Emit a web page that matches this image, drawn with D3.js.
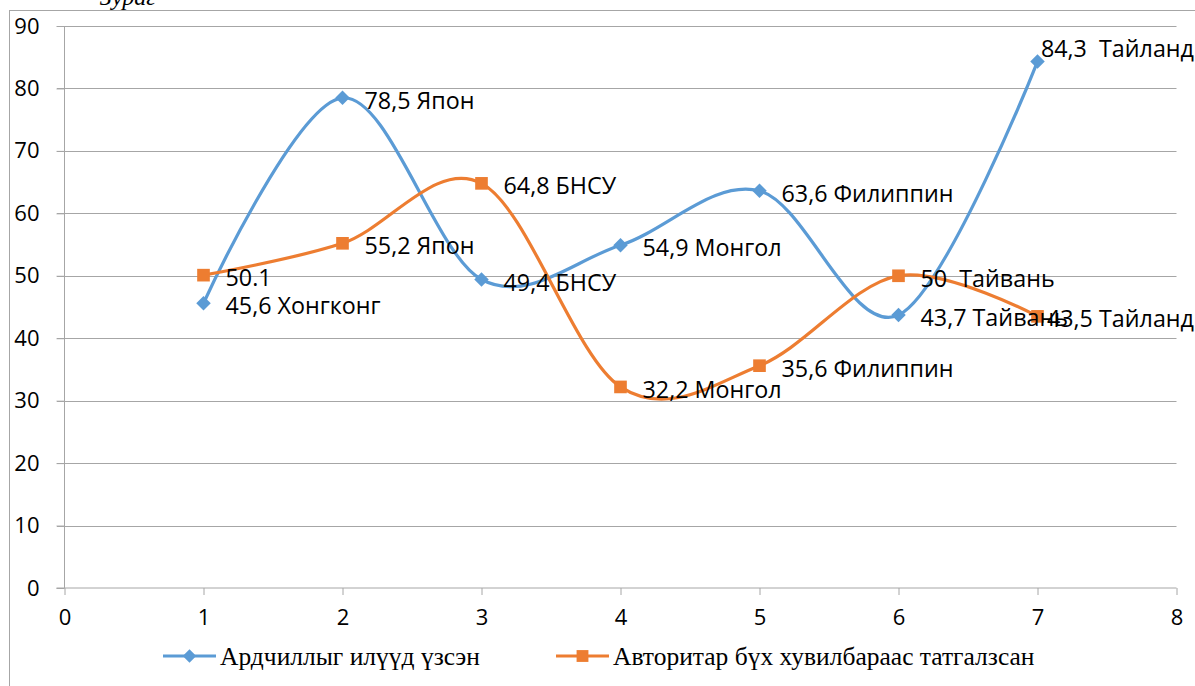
<!DOCTYPE html>
<html><head><meta charset="utf-8">
<script src="https://cdn.jsdelivr.net/npm/d3@7"></script>
<style>body{margin:0;background:#fff}svg{display:block}text{white-space:pre}</style>
</head><body>
<svg id="c" width="1195" height="686"></svg>
<script>
const xValues = [1, 2, 3, 4, 5, 6, 7];
const seriesNames = ["Ардчиллыг илүүд үзсэн", "Авторитар бүх хувилбараас татгалзсан"];
const democracyValues = [45.6, 78.5, 49.4, 54.9, 63.6, 43.7, 84.3];
const democracyLabels = ["45,6 Хонгконг", "78,5 Япон", "49,4 БНСУ", "54,9 Монгол", "63,6 Филиппин", "43,7 Тайвань", "84,3  Тайланд"];
const authoritarianValues = [50.1, 55.2, 64.8, 32.2, 35.6, 50, 43.5];
const authoritarianLabels = ["50.1", "55,2 Япон", "64,8 БНСУ", "32,2 Монгол", "35,6 Филиппин", "50  Тайвань", "43,5 Тайланд"];
const xTicks = [0, 1, 2, 3, 4, 5, 6, 7, 8];
const yTicks = [0, 10, 20, 30, 40, 50, 60, 70, 80, 90];
const titleText = "Зураг";

const svg = d3.select("#c");
const colors = ["#5B9BD5", "#ED7D31"];
const sansFont = "'Open Sans', 'Liberation Sans', Arial, sans-serif";
const serifFont = "'Liberation Serif', 'Times New Roman', serif";

// title (cut off at the top, as in the source)
svg.append("text").attr("x", 100).attr("y", 5)
  .attr("font-family", serifFont).attr("font-style", "italic").attr("font-size", 24)
  .attr("fill", "#000").text(titleText);

// frame
svg.append("rect").attr("x", 9.5).attr("y", 10.5).attr("width", 1300).attr("height", 800)
  .attr("fill", "none").attr("stroke", "#a6a6a6").attr("stroke-width", 1);

const x = d3.scaleLinear().domain([0, 8]).range([64.5, 1176.5]);
const y = d3.scaleLinear().domain([0, 90]).range([588, 26]);

// gridlines
svg.append("g").selectAll("line").data(yTicks.filter(d => d > 0)).join("line")
  .attr("x1", 57).attr("x2", x(8)).attr("y1", d => Math.round(y(d)) + 0.5).attr("y2", d => Math.round(y(d)) + 0.5)
  .attr("stroke", "#a6a6a6").attr("stroke-width", 1);

// y axis
const yAxis = svg.append("g").attr("transform", `translate(${x(0)},0)`)
  .call(d3.axisLeft(y).tickValues(yTicks).tickSize(8).tickPadding(17).tickFormat(d3.format("d")));
yAxis.select(".domain").attr("stroke", "#a6a6a6").attr("d", `M0,${y(0)}V${y(90)}`);
yAxis.selectAll(".tick line").attr("stroke", "#a6a6a6");
yAxis.selectAll("text").attr("font-family", sansFont).attr("font-size", 22).attr("fill", "#000");

// x axis
const xAxis = svg.append("g").attr("transform", `translate(0,${y(0)})`)
  .call(d3.axisBottom(x).tickValues(xTicks).tickSize(7).tickPadding(14).tickFormat(d3.format("d")));
xAxis.select(".domain").attr("stroke", "#a6a6a6").attr("d", `M${x(0) - 8},0H${x(8)}`);
xAxis.selectAll(".tick line").attr("stroke", "#a6a6a6");
xAxis.selectAll("text").attr("font-family", sansFont).attr("font-size", 22).attr("fill", "#000");

const series = [
  { values: democracyValues, labels: democracyLabels, size: 105, rot: 45, color: colors[0], overflowAbove: true },
  { values: authoritarianValues, labels: authoritarianLabels, size: 160, rot: 0, color: colors[1], overflowAbove: false }
];

const line = d3.line().x(d => x(d[0])).y(d => y(d[1])).curve(d3.curveCardinal.tension(0));

series.forEach(s => {
  const pts = xValues.map((v, i) => [v, s.values[i]]);
  svg.append("path").datum(pts).attr("d", line).attr("fill", "none")
    .attr("stroke", s.color).attr("stroke-width", 3.2).attr("stroke-linejoin", "round");
});
series.forEach(s => {
  const pts = xValues.map((v, i) => [v, s.values[i]]);
  svg.append("g").selectAll("path").data(pts).join("path")
    .attr("transform", d => `translate(${x(d[0])},${y(d[1])}) rotate(${s.rot})`)
    .attr("d", d3.symbol().type(d3.symbolSquare).size(s.size)).attr("fill", s.color);
});

// data labels (right of the point, pulled inside the chart if they would overflow)
const rightLimit = 1194;
series.forEach(s => {
  const g = svg.append("g");
  xValues.forEach((v, i) => {
    const px = x(v), py = y(s.values[i]);
    const t = g.append("text").attr("font-family", sansFont).attr("font-size", 23.3).attr("fill", "#000")
      .attr("dominant-baseline", "central").text(s.labels[i]);
    const w = t.node().getComputedTextLength();
    let lx = px + 22, ly = py + 2;
    if (lx + w > rightLimit) {
      lx = rightLimit - w;
      if (s.overflowAbove) ly = py - 14;
    }
    t.attr("x", lx).attr("y", ly);
  });
});

// legend
const legend = svg.append("g");
const legendItems = [{ x: 163, rot: 45, size: 90 }, { x: 556, rot: 0, size: 140 }];
legendItems.forEach((it, i) => {
  const ly = 656;
  legend.append("line").attr("x1", it.x).attr("x2", it.x + 53).attr("y1", ly).attr("y2", ly)
    .attr("stroke", colors[i]).attr("stroke-width", 3.2);
  legend.append("path").attr("transform", `translate(${it.x + 26.5},${ly}) rotate(${it.rot})`)
    .attr("d", d3.symbol().type(d3.symbolSquare).size(it.size)).attr("fill", colors[i]);
  legend.append("text").attr("x", it.x + 57).attr("y", ly).attr("dominant-baseline", "central")
    .attr("font-family", serifFont).attr("font-size", 25.5).attr("fill", "#000").text(seriesNames[i]);
});
</script>
</body></html>
